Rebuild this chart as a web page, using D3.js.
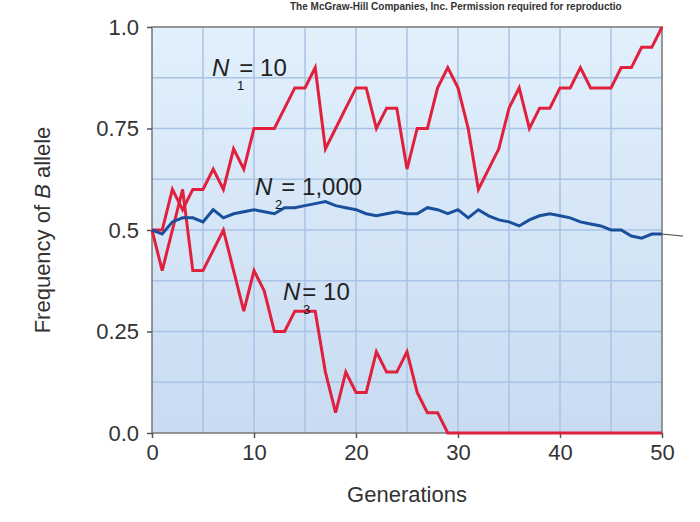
<!DOCTYPE html>
<html><head><meta charset="utf-8">
<script src="https://cdn.jsdelivr.net/npm/d3@7"></script>
<style>body{margin:0;background:#fff}text{font-family:"Liberation Sans",Arial,sans-serif}</style>
</head><body><svg id="c" width="700" height="522"></svg>
<script>
var generations = d3.range(0, 51);
var n1 = [0.5,0.5,0.6,0.55,0.6,0.6,0.65,0.6,0.7,0.65,0.75,0.75,0.75,0.8,0.85,0.85,0.9,0.7,0.75,0.8,0.85,0.85,0.75,0.8,0.8,0.65,
  0.75,0.75,0.85,0.9,0.85,0.75,0.6,0.65,0.7,0.8,0.85,0.75,0.8,0.8,0.85,0.85,0.9,0.85,0.85,0.85,0.9,0.9,0.95,0.95,1.0];
var n2 = [0.5,0.49,0.52,0.53,0.53,0.52,0.55,0.53,0.54,0.545,0.55,0.545,0.54,0.555,0.555,0.56,0.565,0.57,0.56,0.555,0.55,0.54,0.535,0.54,0.545,0.54,
  0.54,0.555,0.55,0.54,0.55,0.53,0.55,0.535,0.525,0.52,0.51,0.525,0.535,0.54,0.535,0.53,0.52,0.515,0.51,0.5,0.5,0.485,0.48,0.49,0.49];
var n3 = [0.5,0.4,0.5,0.6,0.4,0.4,0.45,0.5,0.4,0.3,0.4,0.35,0.25,0.25,0.3,0.3,0.3,0.15,0.05,0.15,0.1,0.1,0.2,0.15,0.15,0.2,
  0.1,0.05,0.05,0,0,0,0,0,0,0,0,0,0,0,0,0,0,0,0,0,0,0,0,0,0];
var yTicks = [0, 0.25, 0.5, 0.75, 1.0];
var yTickLabels = ["0.0", "0.25", "0.5", "0.75", "1.0"];
var xTicks = [0, 10, 20, 30, 40, 50];

var svg = d3.select('#c');
var x = d3.scaleLinear().domain([0, 50]).range([152, 662]);
var y = d3.scaleLinear().domain([0, 1]).range([433, 27]);

var grad = svg.append('defs').append('linearGradient').attr('id', 'bg')
  .attr('x1', 0).attr('y1', 0).attr('x2', 0).attr('y2', 1);
grad.append('stop').attr('offset', 0).attr('stop-color', '#e2f0fc');
grad.append('stop').attr('offset', 1).attr('stop-color', '#c8dbf1');

svg.append('rect').attr('x', x(0)).attr('y', y(1)).attr('width', x(50) - x(0))
  .attr('height', y(0) - y(1)).attr('fill', 'url(#bg)');

// grid
svg.append('g').selectAll('line').data(d3.range(5, 50, 5)).enter().append('line')
  .attr('x1', d => x(d)).attr('x2', d => x(d)).attr('y1', y(1)).attr('y2', y(0))
  .attr('stroke', '#a9c3e6').attr('stroke-width', 1.5);
svg.append('g').selectAll('line').data(d3.range(1, 8).map(d => d * 0.125)).enter().append('line')
  .attr('x1', x(0)).attr('x2', x(50)).attr('y1', d => y(d)).attr('y2', d => y(d))
  .attr('stroke', '#a9c3e6').attr('stroke-width', 1.5);

svg.append('rect').attr('x', x(0)).attr('y', y(1)).attr('width', x(50) - x(0))
  .attr('height', y(0) - y(1)).attr('fill', 'none').attr('stroke', '#777').attr('stroke-width', 1.5);

var yAxis = svg.append('g').attr('transform', 'translate(' + x(0) + ',0)')
  .call(d3.axisLeft(y).tickValues(yTicks).tickFormat((d, i) => yTickLabels[i]).tickSize(5).tickPadding(8));
var xAxis = svg.append('g').attr('transform', 'translate(0,' + y(0) + ')')
  .call(d3.axisBottom(x).tickValues(xTicks).tickSize(5).tickPadding(6));
[yAxis, xAxis].forEach(a => {
  a.select('.domain').remove();
  a.selectAll('line').attr('stroke', '#555').attr('stroke-width', 1.5);
  a.selectAll('text').attr('font-size', 22).attr('fill', '#333');
});

// grey stub past the right edge
svg.append('line').attr('x1', x(50)).attr('x2', 683).attr('y1', y(n2[50])).attr('y2', y(0.485))
  .attr('stroke', '#444').attr('stroke-width', 1);

var line = d3.line().x((d, i) => x(generations[i])).y(d => y(d));
svg.append('path').datum(n3).attr('d', line).attr('fill', 'none').attr('stroke', '#e0203c').attr('stroke-width', 3);
svg.append('path').datum(n1).attr('d', line).attr('fill', 'none').attr('stroke', '#e0203c').attr('stroke-width', 3);
svg.append('path').datum(n2).attr('d', line).attr('fill', 'none').attr('stroke', '#1a4f9c').attr('stroke-width', 3);

function label(lx, ly, sub, rest, sx, subx) {
  var t = svg.append('text').attr('x', lx).attr('y', ly).attr('font-size', 24).attr('fill', '#222');
  t.append('tspan').attr('font-style', 'italic').text('N');
  t.append('tspan').attr('dx', sx).text(rest);
  svg.append('text').attr('x', lx + subx).attr('y', ly + 14).attr('font-size', 13).attr('fill', '#111').text(sub);
}
label(212, 76, '1', '= 10', 10, 25);
label(255, 195, '2', '= 1,000', 9, 20);
label(283, 300, '3', '= 10', 2, 20);

svg.append('text').attr('x', 407).attr('y', 502).attr('text-anchor', 'middle')
  .attr('font-size', 22).attr('fill', '#333').text('Generations');
var yt = svg.append('text').attr('transform', 'translate(50,230) rotate(-90)').attr('text-anchor', 'middle')
  .attr('font-size', 22).attr('fill', '#333');
yt.append('tspan').text('Frequency of ');
yt.append('tspan').attr('font-style', 'italic').text('B');
yt.append('tspan').text(' allele');

svg.append('text').attr('x', 290).attr('y', 10).attr('font-size', 10).attr('font-weight', 'bold')
  .attr('fill', '#333').text('The McGraw-Hill Companies, Inc. Permission required for reproductio');
</script></body></html>
